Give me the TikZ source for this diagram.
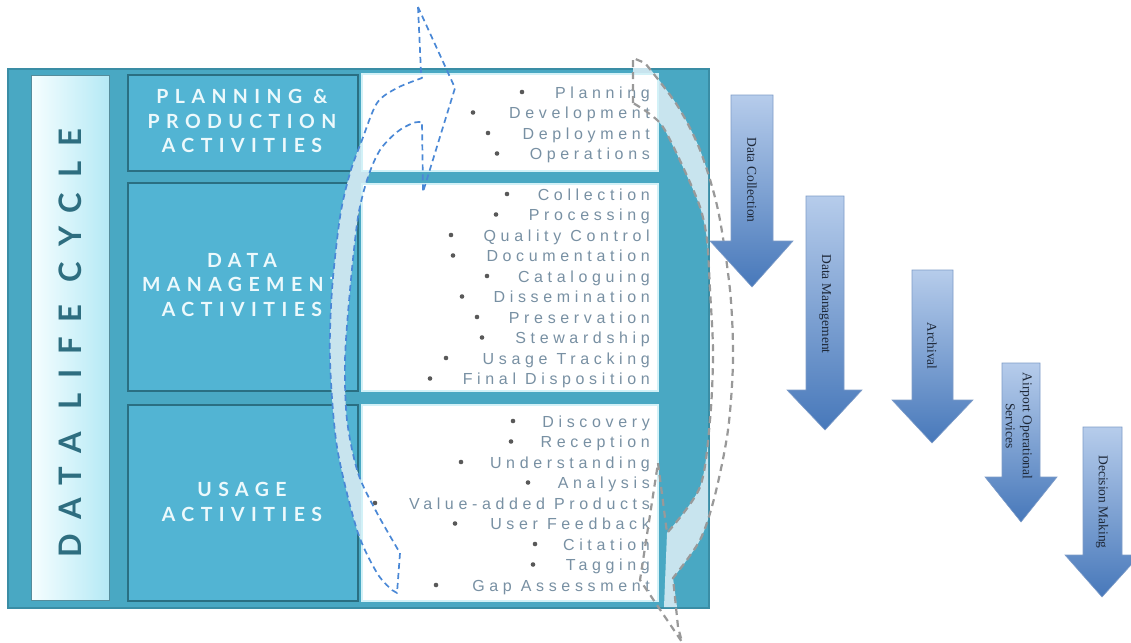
\documentclass[tikz,border=0pt]{standalone}
\usepackage{fontspec}
\setmainfont{Liberation Serif}
\newfontfamily\headfont[LetterSpace=33]{Lato}
\newfontfamily\cyclefont[LetterSpace=48]{Lato}
\newfontfamily\listfont[LetterSpace=29]{Liberation Sans}
\usetikzlibrary{calc}

\definecolor{framecol}{HTML}{49A8C3}
\definecolor{frameedge}{HTML}{3A8DA5}
\definecolor{panelcol}{HTML}{52B4D3}
\definecolor{paneledge}{HTML}{2A6F82}
\definecolor{stripL}{HTML}{F6FEFF}
\definecolor{stripR}{HTML}{B4E9F5}
\definecolor{cyclefg}{HTML}{2E6E80}
\definecolor{headfg}{HTML}{ECF9FC}
\definecolor{listfg}{HTML}{7890A3}
\definecolor{listedge}{HTML}{D2F1F7}
\definecolor{bandcol}{HTML}{C8E4EE}
\definecolor{bluedash}{HTML}{4A88D6}
\definecolor{graydash}{HTML}{999999}
\definecolor{arrowtop}{HTML}{B6CCEB}
\definecolor{arrowbot}{HTML}{4778BA}
\definecolor{arrowedge}{HTML}{7E9CC8}
\definecolor{arrowfg}{HTML}{1E2838}

\tikzset{
  panel/.style={draw=paneledge, line width=2.2pt, fill=panelcol, anchor=north west, inner sep=0pt},
  listbox/.style={draw=listedge, line width=1.5pt, fill=white, anchor=north west, inner sep=0pt},
  headtext/.style={text=headfg, font=\headfont\bfseries\fontsize{19.5}{24.5}\selectfont, align=center, inner sep=0pt},
  listitem/.style={text=listfg, font=\listfont\fontsize{16}{18}\selectfont, anchor=base east, inner sep=0pt},
  bulletdot/.style={circle, fill=black!65, minimum size=4.6pt, inner sep=0pt},
  arrowtext/.style={text=arrowfg, font=\fontsize{13.5}{17}\selectfont, rotate=-90, align=center, inner sep=0pt},
  downarrow/.style={draw=arrowedge, line width=0.6pt, top color=arrowtop, bottom color=arrowbot},
  bluedashed/.style={draw=bluedash, line width=1.7pt, dash pattern=on 6pt off 4pt, line join=round},
  graydashed/.style={draw=graydash, line width=2.2pt, dash pattern=on 7pt off 5pt, line join=round}
}

\begin{document}
\begin{tikzpicture}[x=1pt, y=-1pt]
\useasboundingbox (0,0) rectangle (1131,642);
\fill[white] (0,0) rectangle (1131,642);

% outer frame and the life-cycle strip
\node[draw=frameedge, line width=2pt, fill=framecol, anchor=north west, inner sep=0pt,
      minimum width=701pt, minimum height=539pt] (frame) at (7,68) {};
\node[draw=paneledge!80, line width=1pt, left color=stripL, right color=stripR, anchor=north west,
      inner sep=0pt, minimum width=78pt, minimum height=525pt] (strip) at (31,75) {};
\node[text=cyclefg, font=\cyclefont\bfseries\fontsize{31}{31}\selectfont, rotate=90, inner sep=0pt]
      (cycle) at (70,343) {DATA LIFE CYCLE};

% activity panels
\node[panel, minimum width=230pt, minimum height=96pt] (pplan) at (127,74) {};
\node[panel, minimum width=230pt, minimum height=208pt] (pdm) at (127,182) {};
\node[panel, minimum width=230pt, minimum height=196pt] (puse) at (127,404) {};
\node[headtext] (hplan) at (242,121) {PLANNING \&\\PRODUCTION\\ACTIVITIES};
\node[headtext] (hdm) at (242,285) {DATA\\MANAGEMENT\\ACTIVITIES};
\node[headtext] (huse) at (242,502) {USAGE\\ACTIVITIES};

% light bands of the two cycle arrows, visible on the frame only
\begin{scope}
  \clip (7,68) rectangle (708,607);
  \fill[bandcol] plot[smooth] coordinates {(422,78) (397,88) (377,103) (362,140) (350,173) (340,217)
      (332,290) (330,360) (337,447) (357,530) (377,573) (392,590)}
    -- (397,593) --
    plot[smooth] coordinates {(400,553) (377,513) (358,473) (347,420) (345,360) (350,290) (358,217)
      (368,177) (380,150) (397,132) (413,123) (422,122)} -- cycle;
  \fill[bandcol] plot[smooth] coordinates {(633,58) (645,63) (677,105) (700,150) (718,210) (730,290)
      (733,360) (728,430) (715,495) (700,540) (673,578)}
    -- (677,607) -- (664,607) --
    plot[smooth] coordinates {(667,533) (700,487) (710,420) (713,353) (710,290) (707,240) (700,207)
      (683,167) (663,127) (647,112) (633,103)} -- cycle;
\end{scope}

% activity lists
\node[listbox, minimum width=296pt, minimum height=97pt] (lplan) at (361,73) {};
\node[listbox, minimum width=296pt, minimum height=207pt] (ldm) at (361,183) {};
\node[listbox, minimum width=296pt, minimum height=196pt] (luse) at (361,404) {};

\node[listitem] (i1) at (650,98) {Planning};
\node[listitem] (i2) at (650,118.5) {Development};
\node[listitem] (i3) at (650,139) {Deployment};
\node[listitem] (i4) at (650,159.5) {Operations};
\node[bulletdot] (b1) at (522,92) {};
\node[bulletdot] (b2) at (473,112.5) {};
\node[bulletdot] (b3) at (488,133) {};
\node[bulletdot] (b4) at (497,153.5) {};

\node[listitem] (i5) at (650,200) {Collection};
\node[listitem] (i6) at (650,220.5) {Processing};
\node[listitem] (i7) at (650,241) {Quality Control};
\node[listitem] (i8) at (650,261.5) {Documentation};
\node[listitem] (i9) at (650,282) {Cataloguing};
\node[listitem] (i10) at (650,302.5) {Dissemination};
\node[listitem] (i11) at (650,323) {Preservation};
\node[listitem] (i12) at (650,343.5) {Stewardship};
\node[listitem] (i13) at (650,364) {Usage Tracking};
\node[listitem] (i14) at (650,384.5) {Final Disposition};
\node[bulletdot] (b5) at (507,194) {};
\node[bulletdot] (b6) at (496,214.5) {};
\node[bulletdot] (b7) at (451,235) {};
\node[bulletdot] (b8) at (453,255.5) {};
\node[bulletdot] (b9) at (487,276) {};
\node[bulletdot] (b10) at (462,296.5) {};
\node[bulletdot] (b11) at (477,317) {};
\node[bulletdot] (b12) at (482,337.5) {};
\node[bulletdot] (b13) at (446,358) {};
\node[bulletdot] (b14) at (430,378.5) {};

\node[listitem] (i15) at (650,427) {Discovery};
\node[listitem] (i16) at (650,447.5) {Reception};
\node[listitem] (i17) at (650,468) {Understanding};
\node[listitem] (i18) at (650,488.5) {Analysis};
\node[listitem] (i19) at (650,509) {Value-added Products};
\node[listitem] (i20) at (650,529.5) {User Feedback};
\node[listitem] (i21) at (650,550) {Citation};
\node[listitem] (i22) at (650,570.5) {Tagging};
\node[listitem] (i23) at (650,591) {Gap Assessment};
\node[bulletdot] (b15) at (513,421) {};
\node[bulletdot] (b16) at (511,441.5) {};
\node[bulletdot] (b17) at (461,462) {};
\node[bulletdot] (b18) at (528,482.5) {};
\node[bulletdot] (b19) at (375,503) {};
\node[bulletdot] (b20) at (455,523.5) {};
\node[bulletdot] (b21) at (535,544) {};
\node[bulletdot] (b22) at (533,564.5) {};
\node[bulletdot] (b23) at (436,585) {};

% dashed outline of the upward cycle arrow
\draw[bluedashed] (418,7) -- (421,72) --
  plot[smooth] coordinates {(422,78) (397,88) (377,103) (362,140) (350,173) (340,217)
      (332,290) (330,360) (337,447) (357,530) (377,573) (392,590)}
  -- (397,593) --
  plot[smooth] coordinates {(400,553) (377,513) (358,473) (347,420) (345,360) (350,290) (358,217)
      (368,177) (380,150) (397,132) (413,123) (422,122)}
  -- (423,192) -- (455,88) -- cycle;

% dashed outline of the downward cycle arrow
\draw[graydashed] (633,103) -- (633,58) --
  plot[smooth] coordinates {(645,63) (677,105) (700,150) (718,210) (730,290)
      (733,360) (728,430) (715,495) (700,540) (673,578)}
  -- (678,627) -- (682,642) -- (640,580) -- (658,463) --
  plot[smooth] coordinates {(667,533) (700,487) (710,420) (713,353) (710,290) (707,240) (700,207)
      (683,167) (663,127) (647,112) (633,103)};

% process arrows
\path[downarrow] (731,95) -- (773,95) -- (773,241) -- (793,241) -- (752,287) -- (710,241) -- (731,241) -- cycle;
\path[downarrow] (806,196) -- (844,196) -- (844,390) -- (862,390) -- (825,430) -- (787,390) -- (806,390) -- cycle;
\path[downarrow] (912,270) -- (953,270) -- (953,400) -- (973,400) -- (932,443) -- (892,400) -- (912,400) -- cycle;
\path[downarrow] (1002,363) -- (1040,363) -- (1040,477) -- (1057,477) -- (1021,522) -- (985,477) -- (1002,477) -- cycle;
\path[downarrow] (1083,427) -- (1122,427) -- (1122,555) -- (1140,555) -- (1102,597) -- (1065,555) -- (1083,555) -- cycle;

\node[arrowtext] (t1) at (752,180) {Data Collection};
\node[arrowtext] (t2) at (825,304) {Data Management};
\node[arrowtext] (t3) at (932,346) {Archival};
\node[arrowtext] (t4) at (1019,426) {Airport Operational\\Services};
\node[arrowtext] (t5) at (1102,502) {Decision Making};
\end{tikzpicture}
\end{document}
